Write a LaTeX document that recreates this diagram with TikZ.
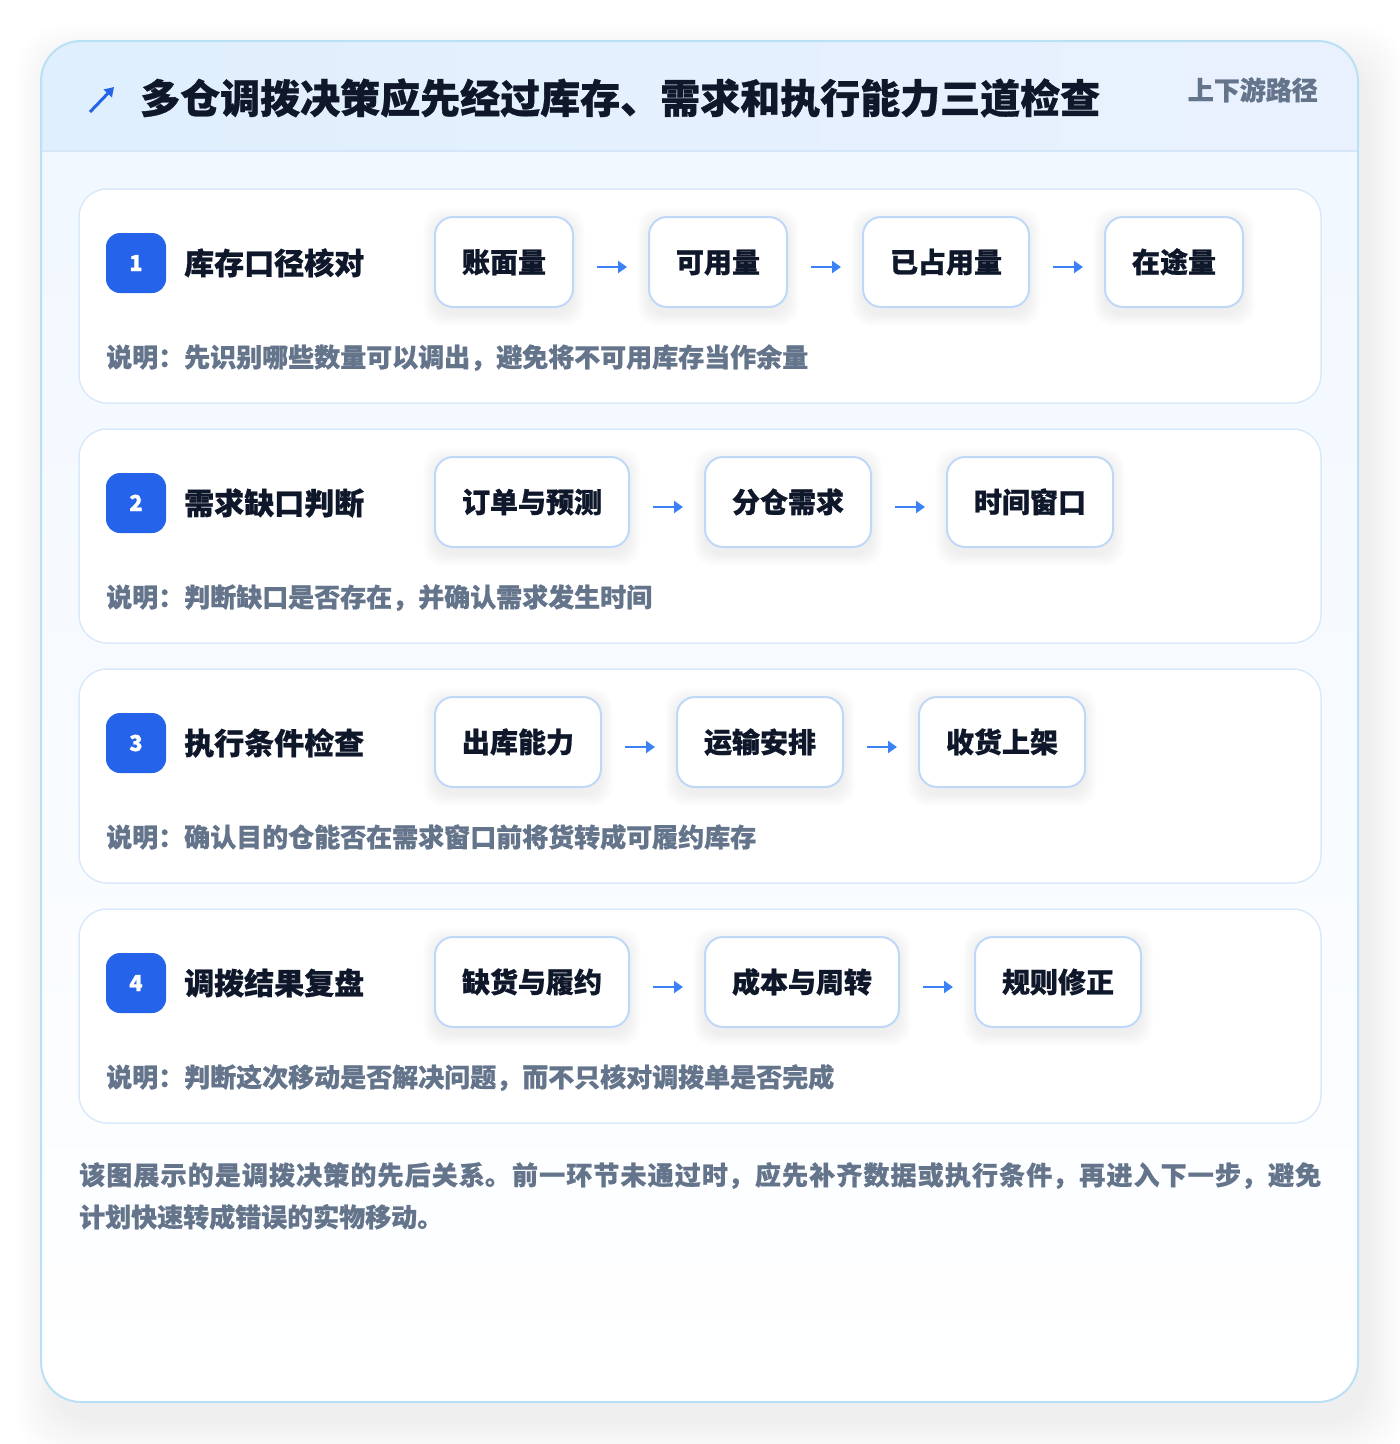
\documentclass[tikz,border=0pt]{standalone}
\usepackage{fontspec}
\setmainfont{Noto Sans CJK SC}[BoldFeatures={FakeBold=0.8}]
\usetikzlibrary{positioning,arrows.meta}
\XeTeXlinebreaklocale "zh"
\XeTeXlinebreakskip=0pt plus 2pt
\definecolor{ink}{HTML}{0F172A}
\definecolor{muted}{HTML}{64748B}
\definecolor{badgeblue}{HTML}{2563EB}
\definecolor{arrowblue}{HTML}{3B82F6}
\definecolor{hdl}{HTML}{DFEFFD}
\definecolor{hdr}{HTML}{EAF1FE}
\definecolor{hdline}{HTML}{D4E6F8}
\definecolor{cardtop}{HTML}{F0F7FF}
\definecolor{outerborder}{HTML}{BAE0F5}
\definecolor{secborder}{HTML}{DBEAFB}
\definecolor{boxborder}{HTML}{BFD8F8}
\definecolor{shadowgrey}{HTML}{1E293B}
\pgfdeclarelayer{back}
\pgfdeclarelayer{shad}
\pgfsetlayers{back,shad,main}
\newcommand\boxshadow[1]{%
  \begin{pgfonlayer}{shad}
    \foreach \k in {1,...,8}{%
      \fill[shadowgrey, opacity=0.009, rounded corners=20pt]
        ([xshift=-\k*1.5pt, yshift=-7pt-\k*1.5pt]#1.south west) rectangle
        ([xshift=\k*1.5pt, yshift=-3pt+\k*1.5pt]#1.north east);
    }
  \end{pgfonlayer}}
\tikzset{
  seccard/.style={draw=secborder, line width=1.5pt, fill=white, rounded corners=28pt},
  badge/.style={fill=badgeblue, rounded corners=14pt, minimum width=60pt, minimum height=60pt, inner sep=0pt, text=white, font=\fontsize{22}{26}\selectfont\bfseries, text height=16pt, text depth=0pt},
  lab/.style={anchor=west, inner sep=0pt, text=ink, font=\fontsize{30}{36}\selectfont\bfseries, text height=24.9pt, text depth=2.1pt},
  stepbox/.style={draw=boxborder, line width=2pt, fill=white, rounded corners=18pt, minimum height=90pt, inner xsep=27pt, inner ysep=0pt, outer sep=0pt, text=ink, font=\fontsize{28}{34}\selectfont\bfseries, text height=23.2pt, text depth=2pt},
  desc/.style={anchor=west, inner sep=0pt, text=muted, font=\fontsize{26}{32}\selectfont\bfseries, text height=21.6pt, text depth=1.8pt},
  flow/.style={draw=arrowblue, line width=2.6pt, -{Triangle[length=9pt,width=12pt]}, shorten <=24pt, shorten >=22pt},
}
\begin{document}
\begin{tikzpicture}[x=1pt,y=-1pt]
\useasboundingbox (0,0) rectangle (1400,1444);
\begin{pgfonlayer}{back}
\fill[white] (0,0) rectangle (1400,1444);
% outer card shadow
\foreach \k in {1,...,16}{%
  \fill[black, opacity=0.0055, rounded corners=44pt] (41-\k*2.4+14, 41-\k*2.4+22) rectangle (1358+\k*2.4+8, 1402+\k*2.4+18);
}
\path[rounded corners=40pt, top color=cardtop, bottom color=white] (41,41) rectangle (1358,1402);
\begin{scope}
  \clip[rounded corners=40pt] (41,41) rectangle (1358,1402);
  \shade[left color=hdl, right color=hdr] (41,41) rectangle (1358,151);
\end{scope}
\draw[hdline, line width=1.5pt] (41,151) -- (1358,151);
\draw[outerborder, line width=2pt, rounded corners=40pt] (41,41) rectangle (1358,1402);
% section cards
\draw[seccard] (79,189) rectangle (1321,403);
\draw[seccard] (79,429) rectangle (1321,643);
\draw[seccard] (79,669) rectangle (1321,883);
\draw[seccard] (79,909) rectangle (1321,1123);
\end{pgfonlayer}
% header
\draw[badgeblue, line width=3pt, -{Triangle[length=9pt,width=11pt]}] (90,112) -- (114,87);
\node[anchor=west, inner sep=0pt, text=ink, font=\fontsize{40}{48}\selectfont\bfseries, text height=33.2pt, text depth=2.8pt] (title) at (140,98) {多仓调拨决策应先经过库存、需求和执行能力三道检查};
\node[anchor=east, inner sep=0pt, text=muted, font=\fontsize{26}{32}\selectfont\bfseries, text height=21.6pt, text depth=1.8pt] (tag) at (1318,90) {上下游路径};
% row 1
\node[badge] (b1) at (136,263) {1};
\node[lab] (l1) at (184,263) {库存口径核对};
\node[stepbox, anchor=west] (s11) at (435,262) {账面量};
\node[stepbox, right=76pt of s11] (s12) {可用量};
\node[stepbox, right=76pt of s12] (s13) {已占用量};
\node[stepbox, right=76pt of s13] (s14) {在途量};
\boxshadow{s11}\boxshadow{s12}\boxshadow{s13}\boxshadow{s14}
\draw[flow] ([yshift=-5pt]s11.east) -- ([yshift=-5pt]s12.west);
\draw[flow] ([yshift=-5pt]s12.east) -- ([yshift=-5pt]s13.west);
\draw[flow] ([yshift=-5pt]s13.east) -- ([yshift=-5pt]s14.west);
\node[desc] (d1) at (106,357) {说明：先识别哪些数量可以调出，避免将不可用库存当作余量};
% row 2
\node[badge] (b2) at (136,503) {2};
\node[lab] (l2) at (184,503) {需求缺口判断};
\node[stepbox, anchor=west] (s21) at (435,502) {订单与预测};
\node[stepbox, right=76pt of s21] (s22) {分仓需求};
\node[stepbox, right=76pt of s22] (s23) {时间窗口};
\boxshadow{s21}\boxshadow{s22}\boxshadow{s23}
\draw[flow] ([yshift=-5pt]s21.east) -- ([yshift=-5pt]s22.west);
\draw[flow] ([yshift=-5pt]s22.east) -- ([yshift=-5pt]s23.west);
\node[desc] (d2) at (106,597) {说明：判断缺口是否存在，并确认需求发生时间};
% row 3
\node[badge] (b3) at (136,743) {3};
\node[lab] (l3) at (184,743) {执行条件检查};
\node[stepbox, anchor=west] (s31) at (435,742) {出库能力};
\node[stepbox, right=76pt of s31] (s32) {运输安排};
\node[stepbox, right=76pt of s32] (s33) {收货上架};
\boxshadow{s31}\boxshadow{s32}\boxshadow{s33}
\draw[flow] ([yshift=-5pt]s31.east) -- ([yshift=-5pt]s32.west);
\draw[flow] ([yshift=-5pt]s32.east) -- ([yshift=-5pt]s33.west);
\node[desc] (d3) at (106,837) {说明：确认目的仓能否在需求窗口前将货转成可履约库存};
% row 4
\node[badge] (b4) at (136,983) {4};
\node[lab] (l4) at (184,983) {调拨结果复盘};
\node[stepbox, anchor=west] (s41) at (435,982) {缺货与履约};
\node[stepbox, right=76pt of s41] (s42) {成本与周转};
\node[stepbox, right=76pt of s42] (s43) {规则修正};
\boxshadow{s41}\boxshadow{s42}\boxshadow{s43}
\draw[flow] ([yshift=-5pt]s41.east) -- ([yshift=-5pt]s42.west);
\draw[flow] ([yshift=-5pt]s42.east) -- ([yshift=-5pt]s43.west);
\node[desc] (d4) at (106,1077) {说明：判断这次移动是否解决问题，而不只核对调拨单是否完成};
% footer
\node[anchor=north west, inner sep=0pt, text width=1242pt, align=justify, text=muted, font=\fontsize{26}{42}\selectfont\bfseries] (foot) at (79,1162) {该图展示的是调拨决策的先后关系。前一环节未通过时，应先补齐数据或执行条件，再进入下一步，避免\linebreak 计划快速转成错误的实物移动。};
\end{tikzpicture}
\end{document}
